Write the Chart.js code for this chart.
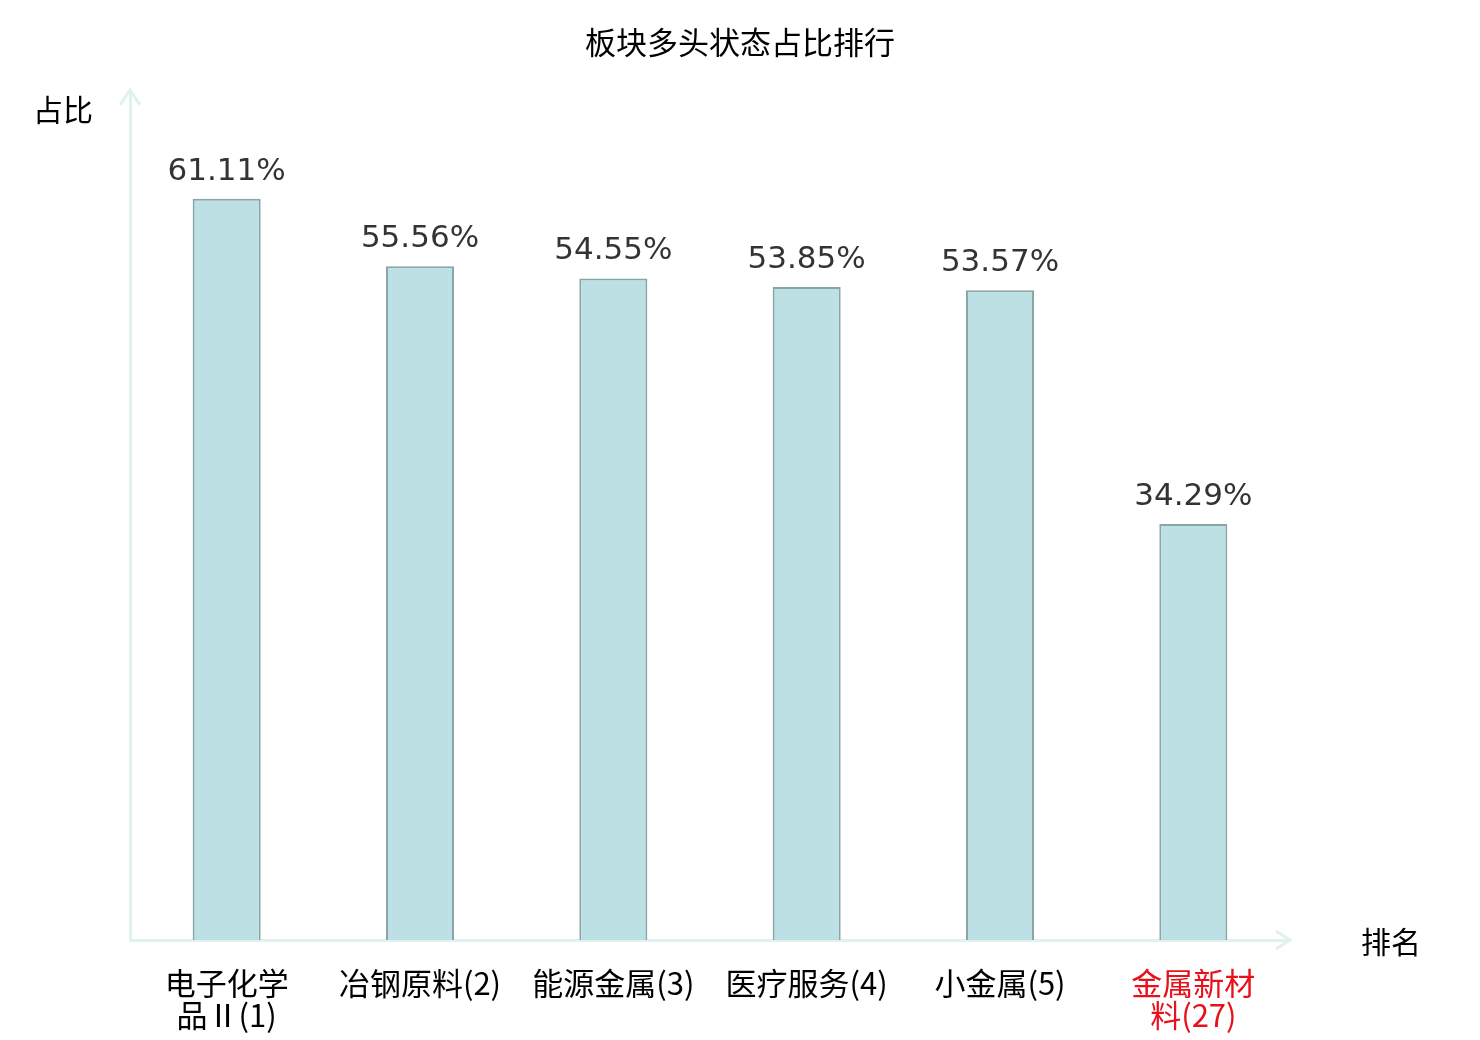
<!DOCTYPE html>
<html>
<head>
<meta charset="utf-8">
<script src="https://cdn.jsdelivr.net/npm/chart.js@4"></script>
<style>
  html, body { margin: 0; padding: 0; background: #fff; }
  #wrap { width: 1480px; height: 1040px; }
</style>
</head>
<body>
<div id="wrap"><canvas id="board_chart"></canvas></div>
<script>
const categories = [
  ["电子化学", "品Ⅱ(1)"],
  "冶钢原料(2)",
  "能源金属(3)",
  "医疗服务(4)",
  "小金属(5)",
  ["金属新材", "料(27)"],
];
const shares = [61.11, 55.56, 54.55, 53.85, 53.57, 34.29];
const labelColors = ["#000", "#000", "#000", "#000", "#000", "#e8101a"];

const CJK = '"Noto Sans CJK SC", "DejaVu Sans", sans-serif';
const AXIS = "#dff2ef";

// arrows, axis names, title and value labels
const decor = {
  id: "decor",
  afterDraw(chart) {
    const { ctx, chartArea: a } = chart;
    ctx.save();
    ctx.strokeStyle = AXIS;
    ctx.lineWidth = 3;
    ctx.beginPath();
    ctx.moveTo(a.left - 10, a.top + 14);
    ctx.lineTo(a.left, a.top - 1);
    ctx.lineTo(a.left + 10, a.top + 14);
    ctx.moveTo(a.right - 14, a.bottom - 9);
    ctx.lineTo(a.right, a.bottom);
    ctx.lineTo(a.right - 14, a.bottom + 9);
    ctx.stroke();

    ctx.fillStyle = "#000";
    ctx.textAlign = "center";
    ctx.textBaseline = "middle";
    ctx.font = "31px " + CJK;
    ctx.fillText("板块多头状态占比排行", 740, 42);
    ctx.font = "30px " + CJK;
    ctx.fillText("占比", 63, 110);
    ctx.fillText("排名", 1391, 942);

    ctx.fillStyle = "#333";
    ctx.font = '31px "DejaVu Sans", sans-serif';
    ctx.textBaseline = "alphabetic";
    const meta = chart.getDatasetMeta(0);
    meta.data.forEach((bar, i) => {
      ctx.fillText(shares[i].toFixed(2) + "%", bar.x, bar.y - 19);
    });
    ctx.restore();
  },
};

const ctx = document.getElementById("board_chart").getContext("2d");
const myChart = new Chart(ctx, {
  type: "bar",
  data: {
    labels: categories,
    datasets: [
      {
        data: shares,
        backgroundColor: "#bce0e3",
        borderColor: "#89a6a7",
        borderWidth: 2,
        categoryPercentage: 1,
        barPercentage: 0.352,
      },
    ],
  },
  options: {
    responsive: true,
    maintainAspectRatio: false,
    animation: false,
    layout: { padding: { left: 130, right: 190, top: 91, bottom: 0 } },
    plugins: {
      legend: { display: false },
      tooltip: { enabled: false },
    },
    scales: {
      x: {
        grid: { display: false },
        border: { color: AXIS, width: 3 },
        afterFit: (s) => { s.height = 100; },
        ticks: {
          maxRotation: 0,
          autoSkip: false,
          padding: 19,
          color: labelColors,
          font: { size: 31, family: CJK, lineHeight: 1.04 },
        },
      },
      y: {
        min: 0,
        max: 70,
        grid: { display: false },
        border: { color: AXIS, width: 3 },
        ticks: { display: false },
        afterFit: (s) => { s.width = 0; },
      },
    },
  },
  plugins: [decor],
});
</script>
</body>
</html>
